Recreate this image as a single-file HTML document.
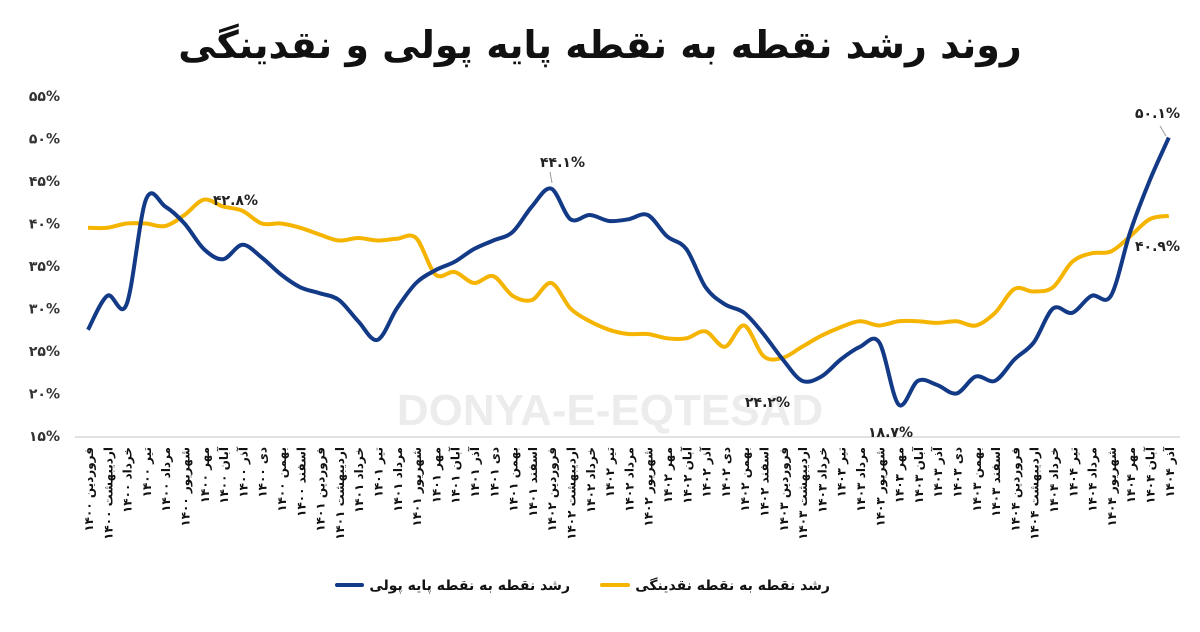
<!DOCTYPE html>
<html><head><meta charset="utf-8">
<style>
html,body{margin:0;padding:0;background:#fff;}
body{width:1200px;height:628px;overflow:hidden;font-family:"DejaVu Sans","Liberation Sans",sans-serif;}
</style></head>
<body>
<svg id="c" width="1200" height="628" xmlns="http://www.w3.org/2000/svg">
<text x="600" y="58" text-anchor="middle" font-size="38" font-weight="bold" fill="#111" font-family="DejaVu Sans, sans-serif" direction="rtl">روند رشد نقطه به نقطه پایه پولی و نقدینگی</text>
<text x="610" y="425" text-anchor="middle" font-size="44" font-weight="bold" fill="#ececec" font-family="Liberation Sans, sans-serif">DONYA-E-EQTESAD</text>
<line x1="75" y1="437" x2="1180" y2="437" stroke="#d9d9d9" stroke-width="1.5"/>
<g id="yl" font-size="14" fill="#333" text-anchor="end" font-weight="bold"></g>
<g id="xl" font-size="12" fill="#111" font-weight="bold"></g>
<path id="py" fill="none" stroke="#f5b400" stroke-width="4"/>
<path id="pb" fill="none" stroke="#133a86" stroke-width="4"/>
<g font-size="14" fill="#222" font-weight="bold">
<text x="213" y="205">۴۲.۸%</text>
<text x="540" y="167">۴۴.۱%</text>
<text x="745" y="407">۲۴.۲%</text>
<text x="868" y="437">۱۸.۷%</text>
<text x="1135" y="118">۵۰.۱%</text>
<text x="1135" y="251">۴۰.۹%</text>
</g>
<line x1="550" y1="172" x2="552" y2="183" stroke="#999" stroke-width="1"/>
<line x1="1160" y1="126" x2="1166" y2="136" stroke="#999" stroke-width="1"/>
<g font-size="14" font-weight="bold" fill="#111">
<line x1="337" y1="585" x2="362" y2="585" stroke="#133a86" stroke-width="4" stroke-linecap="round"/>
<text x="570" y="590" text-anchor="end">رشد نقطه به نقطه پایه پولی</text>
<line x1="602" y1="585" x2="628" y2="585" stroke="#f5b400" stroke-width="4" stroke-linecap="round"/>
<text x="830" y="590" text-anchor="end">رشد نقطه به نقطه نقدینگی</text>
</g>
</svg>
<script>
const NS="http://www.w3.org/2000/svg";
const fa=s=>String(s).replace(/\d/g,d=>"۰۱۲۳۴۵۶۷۸۹"[d]);
const Y=v=>436-(v-15)*8.5, X=i=>88+19.3*i;
const yl=document.getElementById('yl');
for(let v=15;v<=55;v+=5){const t=document.createElementNS(NS,'text');t.setAttribute('x',60);t.setAttribute('y',Y(v)+5);t.textContent=fa(v)+'%';yl.appendChild(t);}
const m=["فروردین","اردیبهشت","خرداد","تیر","مرداد","شهریور","مهر","آبان","آذر","دی","بهمن","اسفند"];
const xl=document.getElementById('xl');
for(let i=0;i<57;i++){const yr=1400+Math.floor(i/12);const t=document.createElementNS(NS,'text');
t.setAttribute('transform',`translate(${X(i)+5},447) rotate(-90)`);t.setAttribute('text-anchor','end');
t.textContent=m[i%12]+' '+fa(yr);xl.appendChild(t);}
const B=[27.5,31.5,30.5,42.8,42,40,37,35.8,37.5,36,34,32.5,31.8,31,28.5,26.3,30,33,34.5,35.5,37,38,39,42,44.1,40.5,41,40.3,40.5,41,38.5,37,32.5,30.5,29.5,27,24,21.5,22,24,25.5,26,18.7,21.5,21,20,22,21.5,24,26,30,29.5,31.5,31.5,39,45,50.1];
const Yw=[39.5,39.5,40,40,39.7,41,42.8,42,41.5,40,40,39.5,38.7,38,38.3,38,38.2,38.3,34,34.3,33,33.8,31.5,31,33,30,28.5,27.5,27,27,26.5,26.5,27.3,25.5,28,24.4,24.2,25.5,26.8,27.8,28.5,28,28.5,28.5,28.3,28.5,28,29.5,32.3,32,32.5,35.5,36.5,36.7,38.5,40.5,40.9];
function path(a){const p=a.map((v,i)=>[X(i),Y(v)]);let d=`M${p[0][0]},${p[0][1]}`;
for(let i=0;i<p.length-1;i++){const p0=p[i-1]||p[i],p1=p[i],p2=p[i+1],p3=p[i+2]||p2;
const c1=[p1[0]+(p2[0]-p0[0])/6,p1[1]+(p2[1]-p0[1])/6],c2=[p2[0]-(p3[0]-p1[0])/6,p2[1]-(p3[1]-p1[1])/6];
d+=`C${c1[0].toFixed(1)},${c1[1].toFixed(1)} ${c2[0].toFixed(1)},${c2[1].toFixed(1)} ${p2[0].toFixed(1)},${p2[1].toFixed(1)}`;}return d;}
document.getElementById('pb').setAttribute('d',path(B));
document.getElementById('py').setAttribute('d',path(Yw));
</script>
</body></html>
